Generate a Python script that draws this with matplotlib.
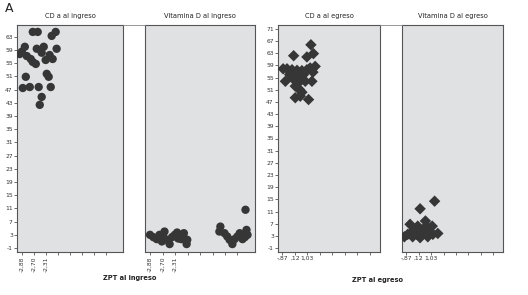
import matplotlib
matplotlib.use("Agg")
import matplotlib.pyplot as plt
from matplotlib.lines import Line2D

# panel titles / axis labels
titles = ["CD a al ingreso", "Vitamina D al ingreso", "CD a al egreso", "Vitamina D al egreso"]
xlab_ing = "ZPT al ingreso"
xlab_egr = "ZPT al egreso"
xt_ing = ["-2,88", "-2,70", "-2,31", "", "", "", "", ""]
xt_egr = ["-,87", ",12", "1,03", "", "", "", "", ""]
yt_ing = list(range(63, -2, -4))
yt_egr = list(range(71, -2, -4))

# CD a al ingreso
cd_ing_x = [0.91, 1.32, 2.48, 2.81, 0.25, 0.0, -0.17, 1.24, 1.82, 1.65, 0.41, 0.74, 0.91, 1.16,
            1.98, 2.31, 2.56, 2.89, 0.33, 0.08, 0.66, 1.40, 2.07, 2.23, 2.40, 1.65, 1.49]
cd_ing_y = [64.5, 64.5, 63.3, 64.5, 60.0, 58.5, 57.8, 59.4, 60.0, 58.2, 57.2, 56.3, 55.4, 54.8,
            56.0, 57.5, 56.3, 59.4, 50.9, 47.5, 47.8, 47.8, 51.8, 50.9, 47.8, 44.8, 42.4]

# Vitamina D al ingreso
vd_ing_x = [0.0, 0.27, 0.54, 0.76, 0.95, 1.16, 1.08, 1.36, 1.57, 1.76, 1.98, 2.17, 2.25, 2.50,
            2.71, 2.79, 2.93, 2.98, 5.63, 5.55, 5.96, 6.18, 6.37, 6.59, 6.77, 6.99, 7.18, 7.40,
            7.59, 7.72, 7.80, 7.64]
vd_ing_y = [3.0, 2.3, 1.7, 3.0, 1.0, 4.0, 2.3, 1.5, 0.2, 2.3, 3.0, 3.7, 1.9, 1.7,
            3.5, 1.7, 0.2, 1.5, 5.5, 4.0, 3.5, 2.5, 1.5, 0.2, 1.7, 2.5, 3.5, 1.7,
            2.3, 4.5, 3.0, 10.6]

# CD a al egreso
cd_egr_x = [2.28, 2.48, 0.90, 1.96, 2.62, 0.06, 0.37, 0.77, 1.17, 1.56, 1.96, 2.22, 0.24, 0.90,
            1.21, 1.43, 1.69, 1.83, 2.36, 1.03, 1.37, 1.56, 1.03, 1.43, 2.09, 2.44, 0.58, 1.29]
cd_egr_y = [65.8, 62.9, 62.2, 61.8, 58.7, 57.9, 57.9, 57.6, 57.4, 57.3, 57.6, 58.2, 53.8, 54.4,
            56.0, 55.2, 56.0, 53.8, 53.8, 52.2, 51.1, 50.2, 48.4, 48.9, 47.8, 56.8, 56.0, 53.3]

# Vitamina D al egreso
vd_egr_x = [2.28, 1.11, -0.16, 0.11, 0.38, 0.30, 0.65, 0.92, 1.11, 1.20, 1.33, 1.54, 1.65, 1.87,
            2.09, 2.14, 2.54, 0.84, 1.73, 0.51]
vd_egr_y = [14.4, 11.9, 2.7, 3.5, 4.0, 6.8, 5.1, 6.2, 2.4, 4.0, 5.1, 7.9, 6.2, 4.6,
            6.2, 3.5, 3.8, 3.5, 2.7, 2.7]

bg = "#dfe1e3"
dot = "#363636"
edge = "#555555"

fig = plt.figure(figsize=(5.28, 2.95), dpi=100)
W, H = 528.0, 295.0
top, bot = 25, 252
boxes = [(17, 123), (145, 255), (278, 380), (402, 503)]
axs = []
for l, r in boxes:
    ax = fig.add_axes([l / W, 1 - bot / H, (r - l) / W, (bot - top) / H])
    ax.set_facecolor(bg)
    for s in ax.spines.values():
        s.set_color(edge)
        s.set_linewidth(0.8)
    ax.tick_params(length=2, width=0.5, colors="#333333", labelsize=4.3, pad=1)
    axs.append(ax)

data = [(cd_ing_x, cd_ing_y, "o", 36), (vd_ing_x, vd_ing_y, "o", 36),
        (cd_egr_x, cd_egr_y, "D", 34), (vd_egr_x, vd_egr_y, "D", 34)]
for i, (ax, (xs, ys, mk, sz)) in enumerate(zip(axs, data)):
    ax.scatter(xs, ys, marker=mk, s=sz, color=dot, edgecolors="none", zorder=3)
    ax.set_title(titles[i], fontsize=4.8, pad=5, color="#222222")
    ax.set_xticks(range(8))
    if i < 2:
        ax.set_xticklabels(xt_ing, rotation=90)
        ax.set_xlim(-0.4, 8.4)
        ax.set_ylim(-2.2, 66.6)
        ax.set_yticks(yt_ing)
        ax.set_yticklabels([str(v) for v in yt_ing])
    else:
        ax.set_xticklabels(xt_egr)
        ax.set_xlim(-0.35, 7.8)
        ax.set_ylim(-2.3, 72.3)
        ax.set_yticks(yt_egr)
        ax.set_yticklabels([str(v) for v in yt_egr])
    if i in (1, 3):
        ax.tick_params(axis="y", left=False, labelleft=False)

# connecting lines along panel tops
for x0, x1 in [(123, 145), (380, 402)]:
    fig.add_artist(Line2D([x0 / W, x1 / W], [1 - top / H, 1 - top / H],
                          color="#888888", lw=0.6))

fig.text(130 / W, 1 - 278 / H, xlab_ing, ha="center", va="center", fontsize=4.8,
         fontweight="bold", color="#222222")
fig.text(378 / W, 1 - 280 / H, xlab_egr, ha="center", va="center", fontsize=4.8,
         fontweight="bold", color="#222222")
fig.text(5 / W, 1 - 9 / H, "A", ha="left", va="center", fontsize=9, color="#222222")

fig.savefig("out.png", dpi=100, facecolor="white")
